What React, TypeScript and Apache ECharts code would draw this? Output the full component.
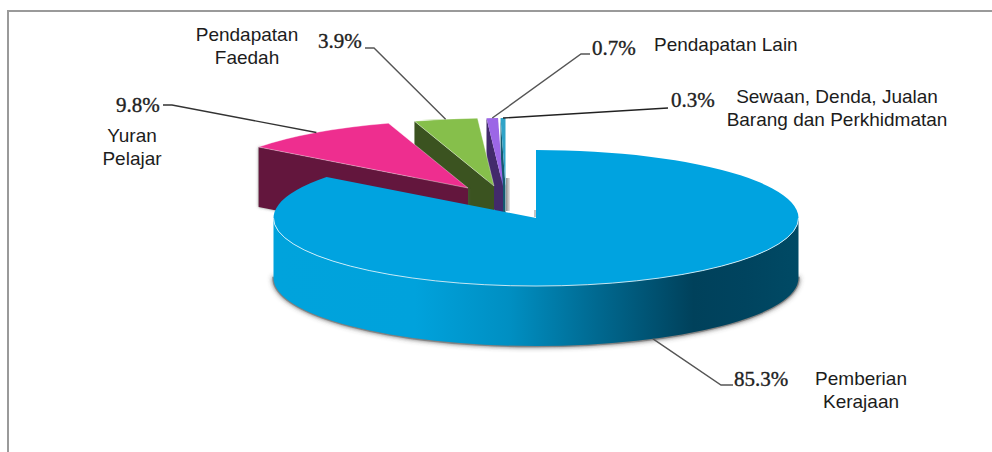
import React, { useEffect, useRef } from "react";
import * as echarts from "echarts";

const names = [
  "Pemberian\nKerajaan",
  "Yuran\nPelajar",
  "Pendapatan\nFaedah",
  "Pendapatan Lain",
  "Sewaan, Denda, Jualan\nBarang dan Perkhidmatan",
];
const values = [85.3, 9.8, 3.9, 0.7, 0.3];
const percentLabels = ["85.3%", "9.8%", "3.9%", "0.7%", "0.3%"];
const topColors = ["#00a3e0", "#ee2e8f", "#86bf4b", "#9c66e6", "#2fa3c7"];
const sideColors = ["#00a3de", "#64123c", "#3b5320", "#422a6b", "#155a70"];

// Layout constants (not data)
const RX = 262.5, RY = 68, DEPTH = 60;
const apexes: [number, number][] = [[536, 218], [468, 188], [494, 186], [503, 186], [505.5, 186]];
const leaderEnds: [number, number][][] = [
  [[721, 385], [733, 385]],
  [[172, 105], [163, 105]],
  [[374, 48], [365, 48]],
  [[581, 54], [590, 54]],
  [[668, 108], [668, 108]],
];
const leaderColors = ["#555555", "#333333", "#555555", "#555555", "#222222"];
const pctPos: [number, number][] = [[734, 379], [116, 105], [318, 41], [592, 48], [671, 100]];
const namePos: [number, number, string][] = [
  [861, 390, "center"],
  [132, 147, "center"],
  [247, 46, "center"],
  [654, 44, "left"],
  [837, 108, "center"],
];

const rad = (d: number) => (d * Math.PI) / 180;
const rim = (a: [number, number], deg: number, dy = 0): [number, number] => [
  a[0] + RX * Math.sin(rad(deg)),
  a[1] - RY * Math.cos(rad(deg)) + dy,
];
const arc = (p: [number, number], large: boolean, sweep: boolean) =>
  `A ${RX} ${RY} 0 ${large ? 1 : 0} ${sweep ? 1 : 0} ${p[0]} ${p[1]}`;

function buildAngles() {
  let acc = 0;
  const total = values.reduce((s, v) => s + v, 0);
  return values.map((v) => {
    const start = acc;
    acc += (v / total) * 360;
    return [start, acc];
  });
}

function renderItem(params: any) {
  if (params.dataIndex !== 0) return { type: "group", children: [] };
  const angles = buildAngles();
  const children: any[] = [];
  const path = (d: string, style: any, z2 = 0) => ({
    type: "path",
    z2,
    shape: { pathData: d },
    style,
    silent: true,
  });

  // Frame
  children.push({ type: "rect", shape: { x: 7, y: 10, width: 985, height: 2 }, style: { fill: "#9a9a9a" } });
  children.push({ type: "rect", shape: { x: 7, y: 10, width: 2, height: 442 }, style: { fill: "#9a9a9a" } });

  // Exploded slices, drawn back to front
  for (const i of [4, 3, 2, 1]) {
    const a = apexes[i];
    const [s, e] = angles[i];
    const r0 = rim(a, s);
    const r1 = rim(a, e);
    children.push(path(
      `M ${r0[0]} ${r0[1]} L ${a[0]} ${a[1]} L ${a[0]} ${a[1] + DEPTH} L ${r0[0]} ${r0[1] + DEPTH} Z`,
      { fill: sideColors[i], shadowBlur: i === 1 ? 3 : 0, shadowColor: "rgba(90,90,90,0.7)" },
    ));
    if (i === 3) {
      children.push({
        type: "rect",
        shape: { x: 506, y: 178, width: 4, height: 33 },
        style: {
          fill: new echarts.graphic.LinearGradient(0, 0, 1, 0, [
            { offset: 0, color: "#8f8f8f" },
            { offset: 1, color: "#e8e8e8" },
          ]),
        },
      });
    }
    children.push(path(
      `M ${a[0]} ${a[1]} L ${r0[0]} ${r0[1]} ${arc(r1, false, true)} Z`,
      { fill: topColors[i], stroke: "rgba(255,255,255,0.45)", lineWidth: i === 1 || i === 2 ? 0.8 : 0 },
    ));
  }

  // Large slice
  const a = apexes[0];
  const [s, e] = angles[0];
  const right = rim(a, 90), left = rim(a, 270);
  const rightB = rim(a, 90, DEPTH), leftB = rim(a, 270, DEPTH);
  // soft shadow under the front half of the base
  children.push(path(
    `M ${rightB[0]} ${rightB[1]} ${arc(leftB, true, true)} Z`,
    {
      fill: "#6f6f6f",
      stroke: "rgba(120,120,120,0.75)",
      lineWidth: 2.5,
      shadowBlur: 5,
      shadowColor: "rgba(70,70,70,0.9)",
    },
  ));
  children.push(path(
    `M ${right[0]} ${right[1]} ${arc(left, true, true)} L ${leftB[0]} ${leftB[1]} ${arc(rightB, true, false)} Z`,
    {
      fill: new echarts.graphic.LinearGradient(0, 0, 1, 0, [
        { offset: 0, color: "#00a3dc" },
        { offset: 0.27, color: "#00a2dc" },
        { offset: 0.45, color: "#008fc2" },
        { offset: 0.62, color: "#00688f" },
        { offset: 0.8, color: "#00415b" },
        { offset: 0.9, color: "#00445f" },
        { offset: 1, color: "#004a65" },
      ]),
    },
  ));
  const r0 = rim(a, s), r1 = rim(a, e);
  children.push({
    type: "rect",
    shape: { x: 534, y: 210, width: 2, height: 7 },
    style: { fill: "#c4c4c4" },
  });
  children.push(path(
    `M ${a[0]} ${a[1]} L ${r0[0]} ${r0[1]} ${arc(r1, true, true)} Z`,
    { fill: topColors[0] },
  ));
  // Light rim along the front of the top
  children.push(path(
    `M ${right[0]} ${right[1]} ${arc(left, true, true)}`,
    { fill: "none", stroke: "rgba(225,245,252,0.85)", lineWidth: 1 },
  ));

  // Leaders and labels
  angles.forEach(([st, en], i) => {
    const mid = (st + en) / 2;
    const front = mid > 90 && mid < 270;
    const p = rim(apexes[i], mid, front ? DEPTH : 0);
    const pts = [p, ...leaderEnds[i]];
    children.push({
      type: "polyline",
      z2: 5,
      shape: { points: pts },
      style: { fill: "none", stroke: leaderColors[i], lineWidth: 1.4 },
    });
    children.push({
      type: "text",
      z2: 6,
      x: pctPos[i][0],
      y: pctPos[i][1],
      style: {
        text: percentLabels[i],
        font: '21px "Liberation Serif"',
        fill: "#222222",
        stroke: "#222222",
        lineWidth: 0.35,
        verticalAlign: "middle",
        align: "left",
      },
    });
    children.push({
      type: "text",
      z2: 6,
      x: namePos[i][0],
      y: namePos[i][1],
      style: {
        text: names[i],
        font: '19px "Liberation Sans"',
        lineHeight: 22.5,
        fill: "#1c1c1c",
        verticalAlign: "middle",
        align: namePos[i][2],
      },
    });
  });

  return { type: "group", children };
}

export default function App() {
  const ref = useRef<HTMLDivElement>(null);
  useEffect(() => {
    document.body.style.margin = "0";
    const chart = echarts.init(ref.current!, undefined, { renderer: "svg" });
    chart.setOption({
      animation: false,
      backgroundColor: "#ffffff",
      tooltip: { show: false },
      series: [
        {
          type: "custom",
          coordinateSystem: "none",
          silent: true,
          clip: false,
          renderItem,
          data: values.map((v, i) => ({ name: names[i], value: v })),
        },
      ],
    });
    return () => chart.dispose();
  }, []);
  return <div ref={ref} style={{ width: 992, height: 452 }} />;
}
